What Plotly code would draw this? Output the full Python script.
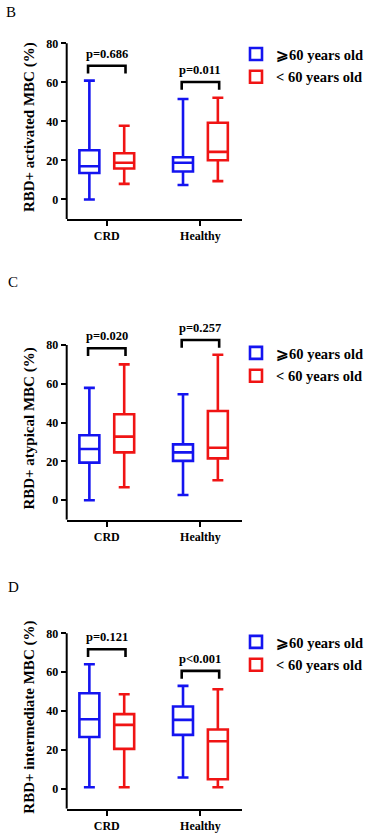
import plotly.graph_objects as go

# ---------------- data ----------------
categories = ["CRD", "Healthy"]
group_names = ["⩾60 years old", "&lt; 60 years old"]
panel_letters = ["B", "C", "D"]
y_titles = ["RBD+ activated MBC (%)", "RBD+ atypical MBC (%)", "RBD+ intermediate MBC (%)"]
y_ticks = [0, 20, 40, 60, 80]
y_min, y_max = -10, 80

# box statistics per panel: [CRD, Healthy]
# panel B (activated)
b_old_min = [0.0, 7.4];  b_old_q1 = [13.6, 14.3]; b_old_med = [17.0, 18.8]; b_old_q3 = [25.2, 21.6]; b_old_max = [60.9, 51.5]
b_yng_min = [8.0, 9.4];  b_yng_q1 = [15.9, 20.1]; b_yng_med = [18.8, 24.4]; b_yng_q3 = [23.7, 39.3]; b_yng_max = [37.8, 52.1]
# panel C (atypical)
c_old_min = [0.0, 2.7];  c_old_q1 = [19.4, 20.3]; c_old_med = [26.4, 24.7]; c_old_q3 = [33.5, 28.8]; c_old_max = [57.9, 54.6]
c_yng_min = [6.7, 10.3]; c_yng_q1 = [24.7, 21.6]; c_yng_med = [32.8, 27.1]; c_yng_q3 = [44.3, 46.0]; c_yng_max = [70.0, 75.0]
# panel D (intermediate)
d_old_min = [1.0, 6.0];  d_old_q1 = [26.8, 27.9]; d_old_med = [35.9, 35.6]; d_old_q3 = [49.2, 42.4]; d_old_max = [64.1, 53.0]
d_yng_min = [1.0, 1.0];  d_yng_q1 = [20.7, 5.1];  d_yng_med = [33.0, 24.6]; d_yng_q3 = [38.5, 30.6]; d_yng_max = [48.7, 51.3]

# significance brackets (height in data units) and p-values
b_bracket = [68.5, 60.2]; b_p = ["p=0.686", "p=0.011"]
c_bracket = [78.3, 82.6]; c_p = ["p=0.020", "p=0.257"]
d_bracket = [71.8, 60.7]; d_p = ["p=0.121", "p<0.001"]

panels = [
    dict(old=(b_old_min, b_old_q1, b_old_med, b_old_q3, b_old_max),
         yng=(b_yng_min, b_yng_q1, b_yng_med, b_yng_q3, b_yng_max),
         bracket=b_bracket, p=b_p),
    dict(old=(c_old_min, c_old_q1, c_old_med, c_old_q3, c_old_max),
         yng=(c_yng_min, c_yng_q1, c_yng_med, c_yng_q3, c_yng_max),
         bracket=c_bracket, p=c_p),
    dict(old=(d_old_min, d_old_q1, d_old_med, d_old_q3, d_old_max),
         yng=(d_yng_min, d_yng_q1, d_yng_med, d_yng_q3, d_yng_max),
         bracket=d_bracket, p=d_p),
]

# ---------------- style ----------------
W, H = 370, 836
FONT = "Liberation Serif"
BLUE = "#1414f0"
RED = "#f01414"
colors = [BLUE, RED]
OFFSET = 0.186       # box offset from category centre
BOX_W = 0.213
BR_HALF = 0.2
BR_LEG = 4.0
HEAD = 4             # extra headroom (data units) above the axis top for brackets

# pixel geometry (y of top tick, y of axis bottom) of each plot area
px_y = [(43.3, 219.0), (345.0, 519.7), (633.3, 808.7)]
px_x = (66.7, 242.3)
letter_pos = [(11, 12), (12.5, 282), (13, 587)]
legend_top = [38, 337, 626]

fig = go.Figure()
x_idx = list(range(len(categories)))

for k, pan in enumerate(panels):
    sfx = "" if k == 0 else str(k + 1)
    xa, ya = "x" + sfx, "y" + sfx
    leg = "legend" + sfx
    for g, key in enumerate(["old", "yng"]):
        mn, q1, md, q3, mx = pan[key]
        off = -OFFSET if g == 0 else OFFSET
        fig.add_trace(go.Box(
            x=[i + off for i in x_idx], q1=q1, median=md, q3=q3,
            lowerfence=mn, upperfence=mx,
            name=group_names[g], legend=leg, legendgroup=f"{k}-{g}",
            width=BOX_W, whiskerwidth=0.55, boxpoints=False,
            line=dict(color=colors[g], width=2.6),
            fillcolor="rgba(255,255,255,0)",
            xaxis=xa, yaxis=ya, hoverinfo="skip",
        ))
    # brackets
    bx, by = [], []
    for i, h in zip(x_idx, pan["bracket"]):
        bx += [i - BR_HALF, i - BR_HALF, i + BR_HALF, i + BR_HALF, None]
        by += [h - BR_LEG, h, h, h - BR_LEG, None]
    fig.add_trace(go.Scatter(x=bx, y=by, mode="lines", line=dict(color="black", width=2.6),
                             showlegend=False, cliponaxis=False, xaxis=xa, yaxis=ya,
                             hoverinfo="skip"))
    for i, h, t in zip(x_idx, pan["bracket"], pan["p"]):
        fig.add_annotation(x=i, y=h, xref=xa, yref=ya, text=t, showarrow=False,
                           yanchor="bottom", yshift=3,
                           font=dict(family=FONT, size=12.5, color="black", weight="bold"))

    top, bot = px_y[k]
    ppu = (bot - top) / (y_max - y_min)
    top_ext = top - HEAD * ppu
    tickfont = dict(family=FONT, size=12, color="black", weight="bold")
    fig.update_layout(**{
        ("xaxis" + sfx): dict(domain=[px_x[0] / W, px_x[1] / W], range=[-0.428, 1.447],
                              tickvals=x_idx, ticktext=categories, anchor=ya,
                              showline=True, linewidth=2, linecolor="black",
                              ticks="outside", ticklen=5, tickwidth=2, tickcolor="black",
                              showgrid=False, zeroline=False, tickfont=tickfont),
        ("yaxis" + sfx): dict(domain=[(H - bot) / H, (H - top_ext) / H],
                              range=[y_min, y_max + HEAD],
                              tickvals=y_ticks, anchor=xa, showline=False,
                              ticks="outside", ticklen=5, tickwidth=2, tickcolor="black",
                              showgrid=False, zeroline=False, tickfont=tickfont,
                              title=dict(text=y_titles[k], standoff=8,
                                         font=dict(family=FONT, size=15, color="black",
                                                   weight="bold"))),
        leg: dict(x=236 / W, y=(H - legend_top[k]) / H, xanchor="left", yanchor="top",
                  bgcolor="rgba(0,0,0,0)", tracegroupgap=1,
                  font=dict(family=FONT, size=14.5, color="black", weight="bold")),
    })
    # visible y-axis line from the axis bottom up to the top tick
    fig.add_shape(type="line", xref=xa + " domain", yref=ya, x0=0, x1=0,
                  y0=y_min, y1=y_max, line=dict(color="black", width=2), layer="above")
    lx, ly = letter_pos[k]
    fig.add_annotation(x=lx / W, y=(H - ly) / H, xref="paper", yref="paper",
                       text=panel_letters[k], showarrow=False,
                       xanchor="center", yanchor="middle",
                       font=dict(family=FONT, size=15, color="black"))

fig.update_layout(width=W, height=H, margin=dict(l=0, r=0, t=0, b=0),
                  plot_bgcolor="white", paper_bgcolor="white", boxmode="overlay")

fig.write_html("out.html", config={"displayModeBar": False},
               post_script="document.body.style.margin='0';")
